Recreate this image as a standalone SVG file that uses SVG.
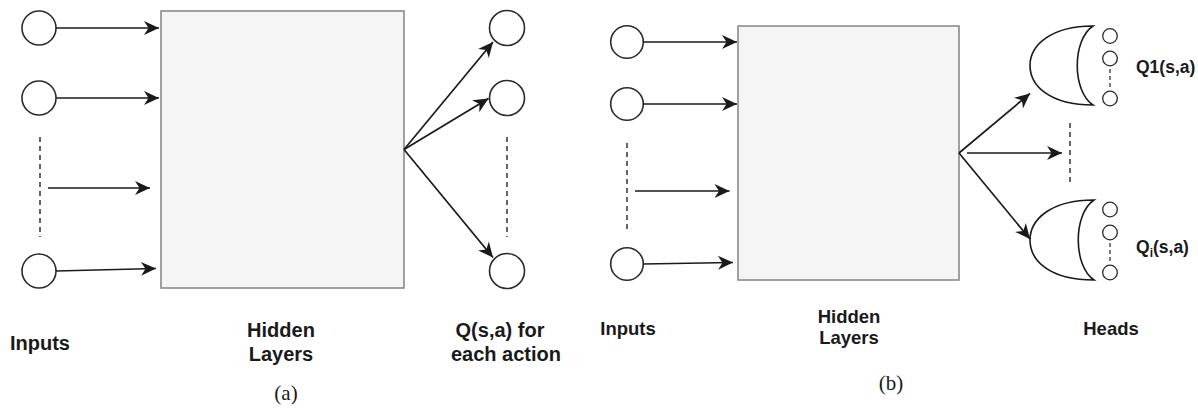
<svg xmlns="http://www.w3.org/2000/svg" width="1198" height="409" viewBox="0 0 1198 409">
  <style>
    .bg { fill: #ffffff; }
    .unit { fill: #ffffff; stroke: #2a2a2a; stroke-width: 1.6; }
    .small { fill: #ffffff; stroke: #2a2a2a; stroke-width: 1.3; }
    .box { fill: #f5f5f5; stroke: #8a8a8a; stroke-width: 1.6; }
    .head { fill: #ffffff; stroke: #1a1a1a; stroke-width: 1.6; }
    .edge { fill: none; stroke: #1a1a1a; stroke-width: 1.7; }
    .dots { fill: none; stroke: #333333; stroke-width: 1.5; stroke-dasharray: 5 4; }
    .dots-s { fill: none; stroke: #333333; stroke-width: 1.3; stroke-dasharray: 4 3; }
    .lbl-a { font-family: "Liberation Sans", Arial, sans-serif; font-weight: bold; font-size: 20px; fill: #1a1a1a; text-anchor: middle; }
    .lbl-b { font-family: "Liberation Sans", Arial, sans-serif; font-weight: bold; font-size: 18.5px; fill: #1a1a1a; text-anchor: middle; }
    .lbl-q { font-family: "Liberation Sans", Arial, sans-serif; font-weight: bold; font-size: 17.5px; fill: #1a1a1a; }
    .cap { font-family: "Liberation Serif", "Times New Roman", serif; font-size: 21px; fill: #1a1a1a; text-anchor: middle; }
  </style>
  <defs>
    <marker id="arrow" markerUnits="userSpaceOnUse" markerWidth="16" markerHeight="15" refX="15" refY="7" orient="auto" overflow="visible">
      <path d="M0,0 L15,7 L0,14 L4.5,7 Z" fill="#1a1a1a"/>
    </marker>
  </defs>

  <rect class="bg" x="0" y="0" width="1198" height="409"/>

  <!-- (a) single-output network -->
  <g id="a-in1"><circle class="unit" cx="39" cy="28" r="17"/></g>
  <g id="a-in2"><circle class="unit" cx="39" cy="98" r="17"/></g>
  <g id="a-in3"><circle class="unit" cx="39" cy="271" r="17"/></g>
  <g id="a-hidden"><rect class="box" x="161" y="11" width="243" height="277"/></g>
  <g id="a-out1"><circle class="unit" cx="507" cy="28" r="17.5"/></g>
  <g id="a-out2"><circle class="unit" cx="507" cy="98" r="17.5"/></g>
  <g id="a-out3"><circle class="unit" cx="507" cy="271" r="17.5"/></g>

  <!-- (b) multi-head network -->
  <g id="b-in1"><circle class="unit" cx="627" cy="42" r="16.3"/></g>
  <g id="b-in2"><circle class="unit" cx="627" cy="104" r="16.3"/></g>
  <g id="b-in3"><circle class="unit" cx="627" cy="264" r="16.3"/></g>
  <g id="b-hidden"><rect class="box" x="738" y="26" width="221" height="254"/></g>
  <g id="b-head1">
    <path class="head" d="M1093,26 C1050,26 1030,46 1030,65.5 C1030,86 1050,105 1093,105 C1072,91 1072,40 1093,26 Z"/>
    <circle class="small" cx="1110" cy="36" r="7.3"/>
    <circle class="small" cx="1110" cy="58.5" r="7.3"/>
    <circle class="small" cx="1110" cy="98.5" r="7.3"/>
    <line class="dots-s" x1="1110" y1="69" x2="1110" y2="89"/>
  </g>
  <g id="b-headi">
    <path class="head" d="M1094,200 C1050,200 1030,220 1030,240 C1030,261 1050,280 1094,280 C1073,266 1073,214 1094,200 Z"/>
    <circle class="small" cx="1110" cy="209.5" r="7.3"/>
    <circle class="small" cx="1110" cy="232.5" r="7.3"/>
    <circle class="small" cx="1110" cy="272.5" r="7.3"/>
    <line class="dots-s" x1="1110" y1="243" x2="1110" y2="263"/>
  </g>

  <!-- connectors -->
  <g id="connectors">
    <line class="edge" x1="56" y1="28" x2="159" y2="28" marker-end="url(#arrow)"/>
    <line class="edge" x1="56" y1="98" x2="159" y2="98" marker-end="url(#arrow)"/>
    <line class="edge" x1="48" y1="188" x2="150" y2="188" marker-end="url(#arrow)"/>
    <line class="edge" x1="56" y1="271" x2="156" y2="268.5" marker-end="url(#arrow)"/>
    <line class="dots" x1="40" y1="137" x2="40" y2="237"/>

    <line class="edge" x1="404" y1="149.5" x2="493" y2="42" marker-end="url(#arrow)"/>
    <line class="edge" x1="404" y1="149.5" x2="488.5" y2="98.5" marker-end="url(#arrow)"/>
    <line class="edge" x1="404" y1="149.5" x2="493" y2="257.5" marker-end="url(#arrow)"/>
    <line class="dots" x1="507" y1="137" x2="507" y2="237"/>

    <line class="edge" x1="643" y1="42" x2="737" y2="42" marker-end="url(#arrow)"/>
    <line class="edge" x1="643" y1="104" x2="737" y2="104" marker-end="url(#arrow)"/>
    <line class="edge" x1="635" y1="191" x2="729.5" y2="191" marker-end="url(#arrow)"/>
    <line class="edge" x1="643" y1="264" x2="733" y2="262.5" marker-end="url(#arrow)"/>
    <line class="dots" x1="627" y1="143" x2="627" y2="233"/>

    <line class="edge" x1="959" y1="153" x2="1030" y2="93.5" marker-end="url(#arrow)"/>
    <line class="edge" x1="967" y1="153" x2="1062" y2="153" marker-end="url(#arrow)"/>
    <line class="edge" x1="959" y1="153" x2="1030" y2="239" marker-end="url(#arrow)"/>
    <line class="dots" x1="1070" y1="123" x2="1070" y2="185"/>
  </g>

  <!-- labels -->
  <text class="lbl-a" x="40" y="350">Inputs</text>
  <text class="lbl-a" x="281" y="337">Hidden</text>
  <text class="lbl-a" x="281" y="361">Layers</text>
  <text class="lbl-a" x="500" y="337">Q(s,a) for</text>
  <text class="lbl-a" x="506" y="361">each action</text>
  <text class="cap" x="286" y="400">(a)</text>

  <text class="lbl-b" x="628" y="335">Inputs</text>
  <text class="lbl-b" x="849" y="323">Hidden</text>
  <text class="lbl-b" x="849" y="344">Layers</text>
  <text class="lbl-b" x="1111" y="335">Heads</text>
  <text class="cap" x="891" y="390">(b)</text>
  <text class="lbl-q" x="1136" y="73">Q1(s,a)</text>
  <text class="lbl-q" x="1136" y="253">Q<tspan font-size="12px" dy="4">i</tspan><tspan dy="-4">(s,a)</tspan></text>
</svg>
